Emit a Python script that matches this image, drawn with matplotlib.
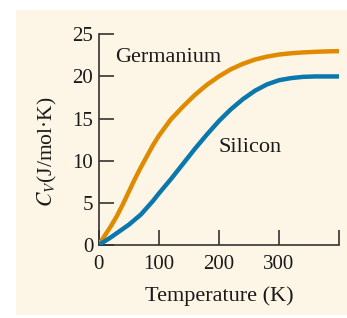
import numpy as np
import matplotlib
matplotlib.use('Agg')
import matplotlib.pyplot as plt
from matplotlib.patches import Rectangle

# temperature (K) and molar heat capacity readings
temp = [0, 10, 20, 30, 40, 50, 60, 70, 80, 90, 100, 120, 140, 160, 180, 200,
        220, 240, 260, 280, 300, 320, 340, 360, 380, 400]
germanium = [0, 1.1, 2.2, 3.4, 4.8, 6.3, 7.8, 9.2, 10.5, 11.8, 12.95, 14.9, 16.4,
             17.8, 19.0, 20.0, 20.85, 21.5, 22.0, 22.35, 22.6, 22.75, 22.85, 22.92,
             22.97, 23.0]
silicon = [0, 0.45, 0.9, 1.4, 1.9, 2.4, 3.0, 3.6, 4.4, 5.2, 6.1, 7.8, 9.6, 11.4,
           13.1, 14.7, 16.1, 17.3, 18.3, 19.05, 19.55, 19.8, 19.95, 20.0, 20.0, 20.0]
xticks = [0, 100, 200, 300, 400]
xtick_labels = ['0', '100', '200', '300', '']
yticks = [0, 5, 10, 15, 20, 25]

plt.rcParams['font.family'] = ['Liberation Serif', 'DejaVu Serif']
plt.rcParams['mathtext.fontset'] = 'stix'

fig = plt.figure(figsize=(3.47, 3.18), dpi=100, facecolor='white')
fig.patches.append(Rectangle((16 / 347, 3 / 318), 1, 305 / 318, transform=fig.transFigure,
                             facecolor='#fdf5e6', edgecolor='none', zorder=0))

ax = fig.add_axes([98.7 / 347, 1 - 245 / 318, 240.3 / 347, 210.7 / 318])
ax.set_zorder(2)
ax.patch.set_alpha(0)

ax.plot(temp, germanium, color='#e08a00', lw=3.2, solid_capstyle='butt', zorder=3)
ax.plot(temp, silicon, color='#0a78ad', lw=3.2, solid_capstyle='butt', zorder=3)

ax.set_xlim(0, 400)
ax.set_ylim(0, 25)
ax.set_xticks(xticks)
ax.set_xticklabels(xtick_labels)
ax.set_yticks(yticks)

for s in ['top', 'right']:
    ax.spines[s].set_visible(False)
for s in ['left', 'bottom']:
    ax.spines[s].set_color('#333333')
    ax.spines[s].set_linewidth(1.2)
ax.tick_params(direction='in', length=10.8, width=1.2, color='#333333',
               labelsize=15, labelcolor='#1a1a1a', pad=4)
ax.tick_params(axis='x', pad=7)

ax.text(27, 22.3, 'Germanium', fontsize=16, color='#1a1a1a', va='center', ha='left')
ax.text(199, 11.6, 'Silicon', fontsize=16, color='#1a1a1a', va='center', ha='left')

ax.set_xlabel('Temperature (K)', fontsize=16, color='#1a1a1a', labelpad=9)
t = fig.text(47 / 347, 1 - 152 / 318, '$C_V$(J/mol·K)', rotation=90, fontsize=15.5,
             color='#1a1a1a', ha='center', va='center')
t.set_zorder(3)

plt.savefig('out.png', dpi=100, facecolor='white')
